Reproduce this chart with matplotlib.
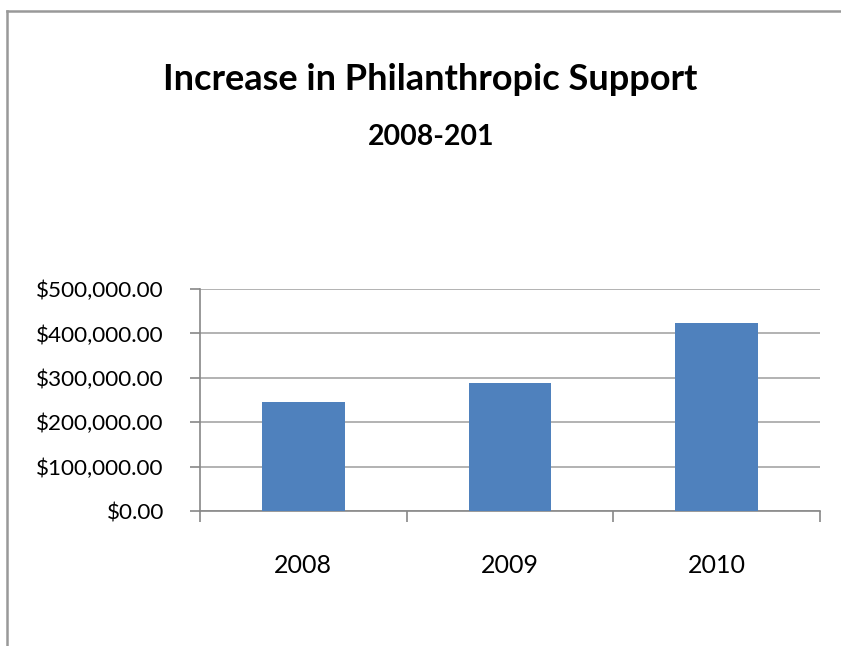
import matplotlib
matplotlib.use("Agg")
import matplotlib.pyplot as plt
from matplotlib.lines import Line2D
from matplotlib.ticker import FuncFormatter, FixedLocator

categories = ["2008", "2009", "2010"]
values = [245000, 288000, 423000]
yticks = [0, 100000, 200000, 300000, 400000, 500000]

title = "Increase in Philanthropic Support"
subtitle = "2008-201"

W, H = 841, 646
fig = plt.figure(figsize=(W / 100, H / 100), dpi=100)
plt.rcParams['font.family'] = ['Lato', 'DejaVu Sans']

ax = fig.add_axes([200 / W, 1 - 511 / H, 620 / W, 222 / H])
x = list(range(len(categories)))
ax.bar(x, values, width=0.4, color="#4F81BD", zorder=3)
ax.set_xlim(-0.5, len(categories) - 0.5)
ax.set_ylim(0, 500000)
ax.set_yticks(yticks)
ax.yaxis.set_major_formatter(FuncFormatter(lambda v, p: "${:,.2f}".format(v)))
ax.set_xticks(x)
ax.set_xticklabels(categories)
ax.xaxis.set_minor_locator(FixedLocator([i - 0.5 for i in range(len(categories) + 1)]))
ax.tick_params(axis="x", which="major", length=0, pad=31, labelsize=18, colors="black")
ax.tick_params(axis="x", which="minor", length=8, width=1.2, color="#888888", direction="out")
ax.tick_params(axis="y", which="major", length=7, width=1.2, color="#888888", pad=19, labelsize=16.2, labelcolor="black")
ax.grid(axis="y", color="#A6A6A6", linewidth=1.2, zorder=0)
for s in ["top", "right"]:
    ax.spines[s].set_visible(False)
for s in ["left", "bottom"]:
    ax.spines[s].set_color("#888888")
    ax.spines[s].set_linewidth(1.2)

fig.text(430 / W, 1 - 79 / H, title, ha="center", va="center", fontsize=26, fontweight="bold")
fig.text(431 / W, 1 - 137 / H, subtitle, ha="center", va="center", fontsize=20.5, fontweight="bold")

fig.add_artist(Line2D([6.5 / W, 6.5 / W], [0, 1 - 10.5 / H], color="#999999", linewidth=1.8, transform=fig.transFigure))
fig.add_artist(Line2D([6.5 / W, 1], [1 - 10.5 / H, 1 - 10.5 / H], color="#999999", linewidth=1.8, transform=fig.transFigure))

fig.savefig("out.png", dpi=100)
